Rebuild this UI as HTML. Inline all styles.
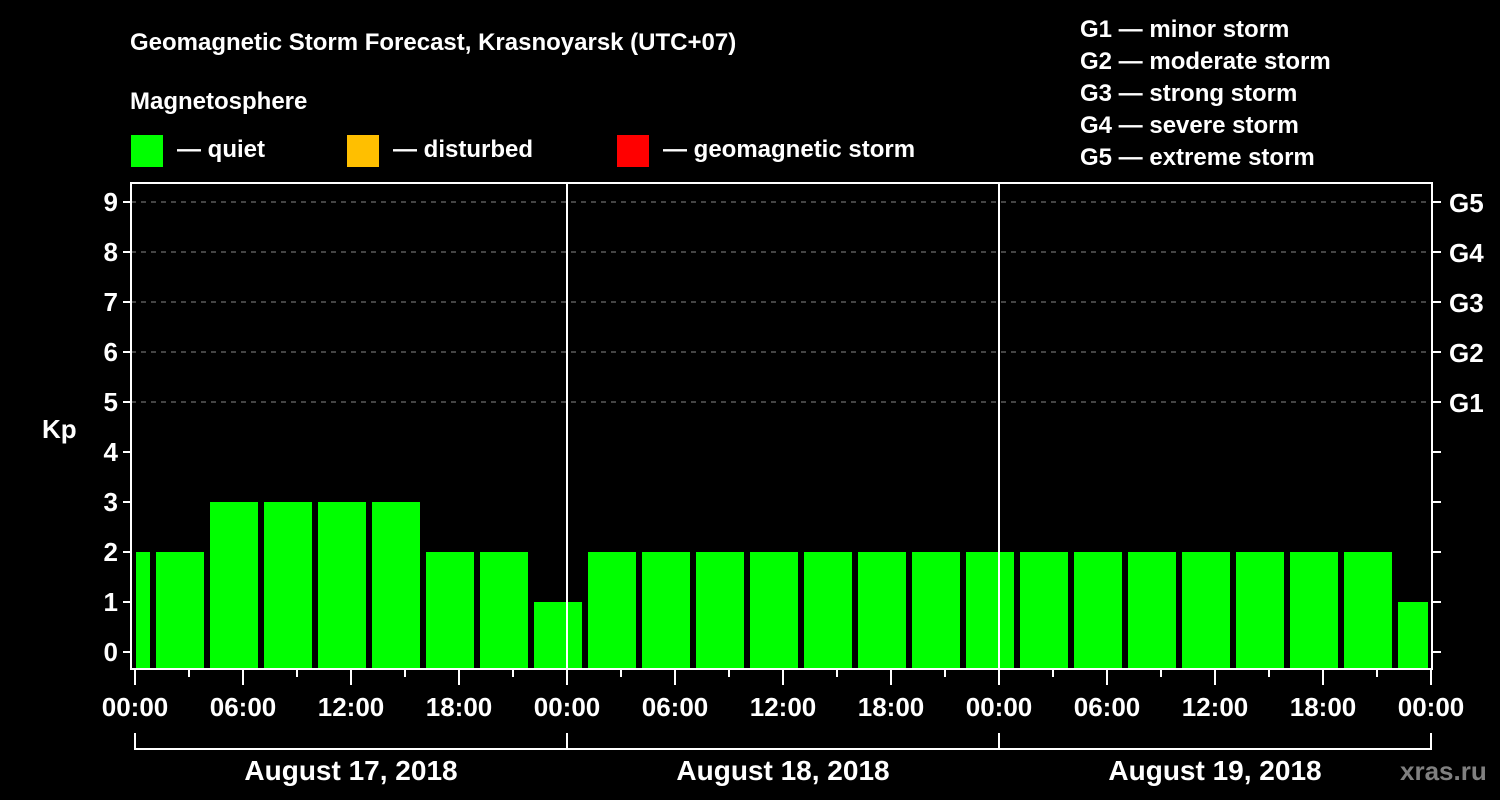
<!DOCTYPE html>
<html><head><meta charset="utf-8"><style>
body{margin:0;background:#000;width:1500px;height:800px;overflow:hidden}
svg{display:block}
text{font-family:"Liberation Sans",sans-serif;font-weight:bold;fill:#fff}
</style></head><body>
<svg id="c" width="1500" height="800">
<text x="130" y="50" font-size="24">Geomagnetic Storm Forecast, Krasnoyarsk (UTC+07)</text>
<text x="130" y="109" font-size="24">Magnetosphere</text>
<rect x="131" y="135" width="32" height="32" fill="#00ff00"/>
<text x="177" y="157" font-size="24">— quiet</text>
<rect x="347" y="135" width="32" height="32" fill="#ffbf00"/>
<text x="393" y="157" font-size="24">— disturbed</text>
<rect x="617" y="135" width="32" height="32" fill="#ff0000"/>
<text x="663" y="157" font-size="24">— geomagnetic storm</text>
<text x="1080" y="37" font-size="24">G1 — minor storm</text>
<text x="1080" y="69" font-size="24">G2 — moderate storm</text>
<text x="1080" y="101" font-size="24">G3 — strong storm</text>
<text x="1080" y="133" font-size="24">G4 — severe storm</text>
<text x="1080" y="165" font-size="24">G5 — extreme storm</text>
<text x="42" y="438" font-size="26">Kp</text>
<text x="1400" y="780" font-size="26" fill="#808080" style="fill:#808080">xras.ru</text>
<g id="plot"></g>
</svg>
<script>
const kpValues=[2,2,3,3,3,3,2,2,1,2,2,2,2,2,2,2,2,2,2,2,2,2,2,2,1];
const barStartHours=[-2,1,4,7,10,13,16,19,22,25,28,31,34,37,40,43,46,49,52,55,58,61,64,67,70];
const yTicks=[0,1,2,3,4,5,6,7,8,9];
const gLabels=[[5,"G1"],[6,"G2"],[7,"G3"],[8,"G4"],[9,"G5"]];
const hourLabels=["00:00","06:00","12:00","18:00"];
const dayLabels=["August 17, 2018","August 18, 2018","August 19, 2018"];
const NS="http://www.w3.org/2000/svg";
const g=document.getElementById('plot');
const X0=135,PXH=18,Y0=652,PXK=50,L=131,R=1432,T=183,B=669;
const xs=h=>X0+h*PXH, ys=v=>Y0-v*PXK;
function mk(tag,attrs,parent){const e=document.createElementNS(NS,tag);for(const k in attrs)e.setAttribute(k,attrs[k]);(parent||g).appendChild(e);return e;}
// grid
[5,6,7,8,9].forEach(v=>{const e=mk('line',{x1:L,x2:R,y1:ys(v),y2:ys(v),stroke:'#888','stroke-dasharray':'5,5','stroke-width':1});

});
// bars
kpValues.forEach((v,i)=>{const s=barStartHours[i];let x1=xs(s)+3,x2=xs(s+3)-3;if(x1<L+5)x1=L+5;if(x2>R-4)x2=R-4;
const e=mk('rect',{x:x1,y:ys(v),width:x2-x1,height:B-1-ys(v),fill:'#00ff00'});

});
// day separators
[1,2].forEach(d=>{const e=mk('line',{x1:xs(24*d),x2:xs(24*d),y1:T,y2:B,stroke:'#fff','stroke-width':2});

});
// frame
const fr=mk('rect',{x:L,y:T,width:R-L,height:B-T,fill:'none',stroke:'#fff','stroke-width':2});


// y ticks
yTicks.forEach(v=>{mk('line',{x1:L-8,x2:L,y1:ys(v),y2:ys(v),stroke:'#fff','stroke-width':2});
mk('line',{x1:R,x2:R+9,y1:ys(v),y2:ys(v),stroke:'#fff','stroke-width':2});
const t=mk('text',{x:L-13,y:ys(v)+9,'font-size':26,'text-anchor':'end'});t.textContent=v;

});
gLabels.forEach(([v,s])=>{const t=mk('text',{x:1449,y:ys(v)+10,'font-size':26});t.textContent=s;

});
// x ticks
for(let h=0;h<=72;h+=3){const major=h%6===0;mk('line',{x1:xs(h),x2:xs(h),y1:B,y2:B+(major?16:8),stroke:'#fff','stroke-width':2});}
for(let h=0;h<=72;h+=6){const t=mk('text',{x:xs(h),y:716,'font-size':26,'text-anchor':'middle'});t.textContent=hourLabels[(h/6)%4];

}
// day bracket
mk('line',{x1:xs(0),x2:xs(72),y1:749,y2:749,stroke:'#fff','stroke-width':2});
for(let d=0;d<=3;d++)mk('line',{x1:xs(24*d),x2:xs(24*d),y1:733,y2:750,stroke:'#fff','stroke-width':2});
dayLabels.forEach((s,d)=>{const t=mk('text',{x:xs(24*d+12),y:780,'font-size':28,'text-anchor':'middle'});t.textContent=s;

});
</script>
</body></html>
